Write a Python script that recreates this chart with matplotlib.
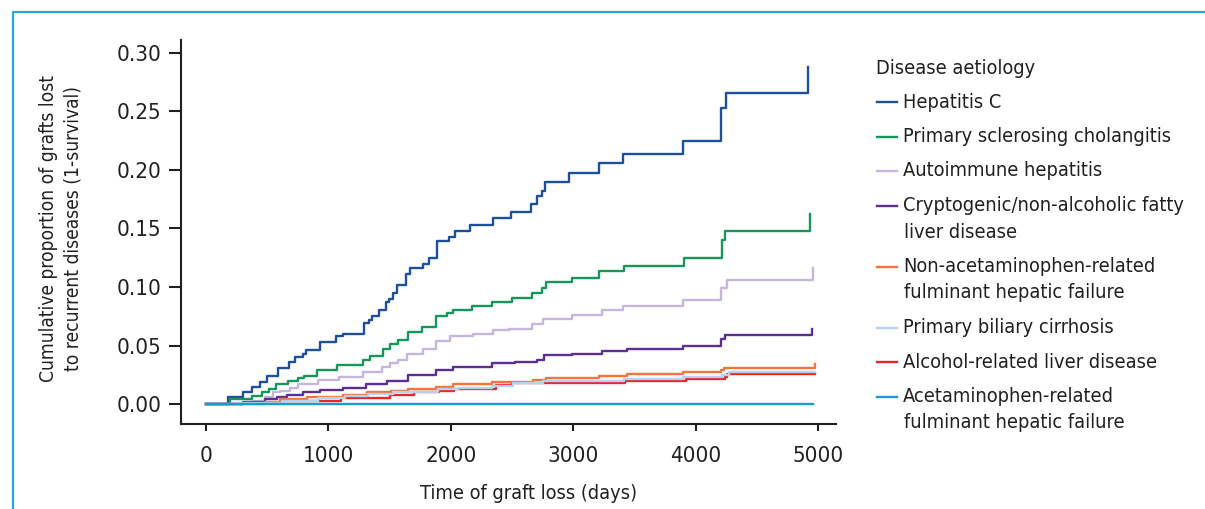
import matplotlib.pyplot as plt
from matplotlib.lines import Line2D

plt.rcParams['font.family'] = ['DejaVu Sans']
plt.rcParams['font.stretch'] = 'condensed'

# Kaplan-Meier style step data (days, cumulative proportion)
hepc_days = [0, 177, 305, 373, 441, 501, 585, 681, 727, 795, 817, 931, 1062, 1122, 1291, 1332,
             1359, 1416, 1468, 1498, 1531, 1563, 1631, 1667, 1770, 1825, 1890, 1988, 2034, 2157,
             2342, 2492, 2653, 2702, 2742, 2770, 2968, 3214, 3410, 3900, 4205, 4246, 4921]
hepc_prop = [0, 0.006, 0.010, 0.015, 0.019, 0.024, 0.031, 0.036, 0.040, 0.043, 0.046, 0.053,
             0.058, 0.060, 0.069, 0.072, 0.075, 0.080, 0.087, 0.090, 0.095, 0.102, 0.111, 0.116,
             0.120, 0.125, 0.139, 0.143, 0.148, 0.153, 0.159, 0.164, 0.171, 0.178, 0.182, 0.190,
             0.197, 0.206, 0.214, 0.225, 0.253, 0.266, 0.288]

psc_days = [0, 196, 373, 455, 517, 572, 673, 754, 803, 904, 1073, 1280, 1340, 1449, 1503, 1571,
            1653, 1762, 1879, 1966, 2021, 2170, 2334, 2503, 2666, 2742, 2778, 2988, 3214, 3415,
            3905, 4213, 4240, 4935]
psc_prop = [0, 0.004, 0.007, 0.010, 0.013, 0.017, 0.020, 0.022, 0.024, 0.029, 0.033, 0.038,
            0.041, 0.047, 0.051, 0.055, 0.062, 0.066, 0.075, 0.078, 0.080, 0.084, 0.087, 0.091,
            0.095, 0.099, 0.104, 0.108, 0.114, 0.118, 0.125, 0.140, 0.148, 0.162]

aih_days = [0, 237, 387, 482, 550, 605, 686, 754, 918, 1089, 1280, 1435, 1503, 1571, 1645, 1770,
            1879, 1993, 2184, 2342, 2478, 2666, 2756, 2988, 3233, 3410, 3900, 4205, 4254, 4962]
aih_prop = [0, 0.001, 0.003, 0.006, 0.010, 0.011, 0.014, 0.017, 0.021, 0.023, 0.027, 0.032,
            0.035, 0.038, 0.043, 0.047, 0.054, 0.058, 0.060, 0.063, 0.064, 0.068, 0.073, 0.076,
            0.080, 0.084, 0.089, 0.099, 0.106, 0.116]

nafld_days = [0, 305, 482, 577, 659, 795, 931, 1117, 1307, 1481, 1653, 1879, 2021, 2334, 2525,
              2702, 2764, 2993, 3238, 3442, 3900, 4208, 4240, 4948]
nafld_prop = [0, 0.002, 0.004, 0.006, 0.008, 0.010, 0.012, 0.014, 0.017, 0.020, 0.025, 0.029,
              0.032, 0.035, 0.036, 0.038, 0.042, 0.043, 0.045, 0.047, 0.050, 0.056, 0.059, 0.064]

nonacet_days = [0, 482, 605, 822, 1117, 1313, 1509, 1653, 1879, 2015, 2334, 2669, 2778, 3214,
                3437, 3894, 4205, 4232, 4975]
nonacet_prop = [0, 0.002, 0.004, 0.006, 0.008, 0.010, 0.011, 0.013, 0.015, 0.017, 0.019, 0.021,
                0.022, 0.024, 0.026, 0.027, 0.029, 0.031, 0.034]

pbc_days = [0, 237, 618, 918, 1136, 1326, 1531, 1898, 2062, 2334, 2511, 2756, 3415, 3900, 4213,
            4276, 4975]
pbc_prop = [0, 0.001, 0.003, 0.005, 0.007, 0.0085, 0.0105, 0.0125, 0.0134, 0.0154, 0.0177,
            0.0194, 0.0217, 0.0228, 0.0251, 0.0274, 0.0274]

ald_days = [0, 300, 613, 1100, 1503, 1700, 1904, 2030, 2370, 2500, 2900, 3420, 3920, 4240, 4260,
            4975]
ald_prop = [0, 0.001, 0.0026, 0.005, 0.0077, 0.0100, 0.0114, 0.0128, 0.0165, 0.0177, 0.0182,
            0.0199, 0.0216, 0.0233, 0.0254, 0.0254]

acet_days = [0, 4960]
acet_prop = [0, 0]

labels = ['Hepatitis C', 'Primary sclerosing cholangitis', 'Autoimmune hepatitis',
          'Cryptogenic/non-alcoholic fatty\nliver disease',
          'Non-acetaminophen-related\nfulminant hepatic failure',
          'Primary biliary cirrhosis', 'Alcohol-related liver disease',
          'Acetaminophen-related\nfulminant hepatic failure']
colors = ['#1d4f9a', '#15975a', '#c4b6dc', '#5c2f91', '#f4743b', '#b5d3ee', '#e8262b', '#1a9bd7']
days = [hepc_days, psc_days, aih_days, nafld_days, nonacet_days, pbc_days, ald_days, acet_days]
props = [hepc_prop, psc_prop, aih_prop, nafld_prop, nonacet_prop, pbc_prop, ald_prop, acet_prop]
zorders = [3, 3, 3, 3, 3, 3, 2, 4]

W, H = 1205, 509
fig = plt.figure(figsize=(W / 100, H / 100), dpi=100)
ax = fig.add_axes([181 / W, 85 / H, 655 / W, 384 / H])

for d, p, c, z in zip(days, props, colors, zorders):
    ax.step(d, p, where='post', color=c, lw=1.7, zorder=z)

ax.set_xlim(-204, 5147)
ax.set_ylim(-0.017, 0.311)
ax.set_xticks([0, 1000, 2000, 3000, 4000, 5000])
ax.set_yticks([0, 0.05, 0.10, 0.15, 0.20, 0.25, 0.30])
ax.set_yticklabels(['%.2f' % v for v in ax.get_yticks()])
for s in ['top', 'right']:
    ax.spines[s].set_visible(False)
for s in ['left', 'bottom']:
    ax.spines[s].set_linewidth(1.5)
    ax.spines[s].set_color('#231f20')
ax.tick_params(axis='y', length=9, width=1.5, pad=5, labelsize=16, colors='#231f20')
ax.tick_params(axis='x', length=5, width=1.5, pad=10.5, labelsize=16, colors='#231f20')

ax.set_xlabel('Time of graft loss (days)', fontsize=14.3, color='#231f20')
ax.xaxis.set_label_coords(0.531, -0.155)
ax.set_ylabel('Cumulative proportion of grafts lost\nto recurrent diseases (1-survival)',
              fontsize=13.8, color='#231f20', linespacing=1.32)
ax.yaxis.set_label_coords(-0.151, 0.51)

# legend drawn by hand so the handle sits on the first line of each label
leg_size = 14.3
fig.text(876 / W, 1 - 68 / H, 'Disease aetiology', fontsize=leg_size, color='#231f20', va='center')
y = 102
for lab, c in zip(labels, colors):
    fig.add_artist(Line2D([877 / W, 897 / W], [1 - y / H, 1 - y / H], color=c, lw=1.7,
                          transform=fig.transFigure))
    for i, line in enumerate(lab.split('\n')):
        fig.text((903 if i == 0 else 904) / W, 1 - y / H, line, fontsize=leg_size, color='#231f20',
                 va='center')
        if i < lab.count('\n'):
            y += 26.5
    y += 34.5

# light blue frame on the left and top
fig.add_artist(Line2D([13 / W, 13 / W, 1.0], [0, 1 - 11.5 / H, 1 - 11.5 / H], color='#2aa7de',
                      lw=1.6, transform=fig.transFigure))

fig.savefig('out.png', dpi=100)
